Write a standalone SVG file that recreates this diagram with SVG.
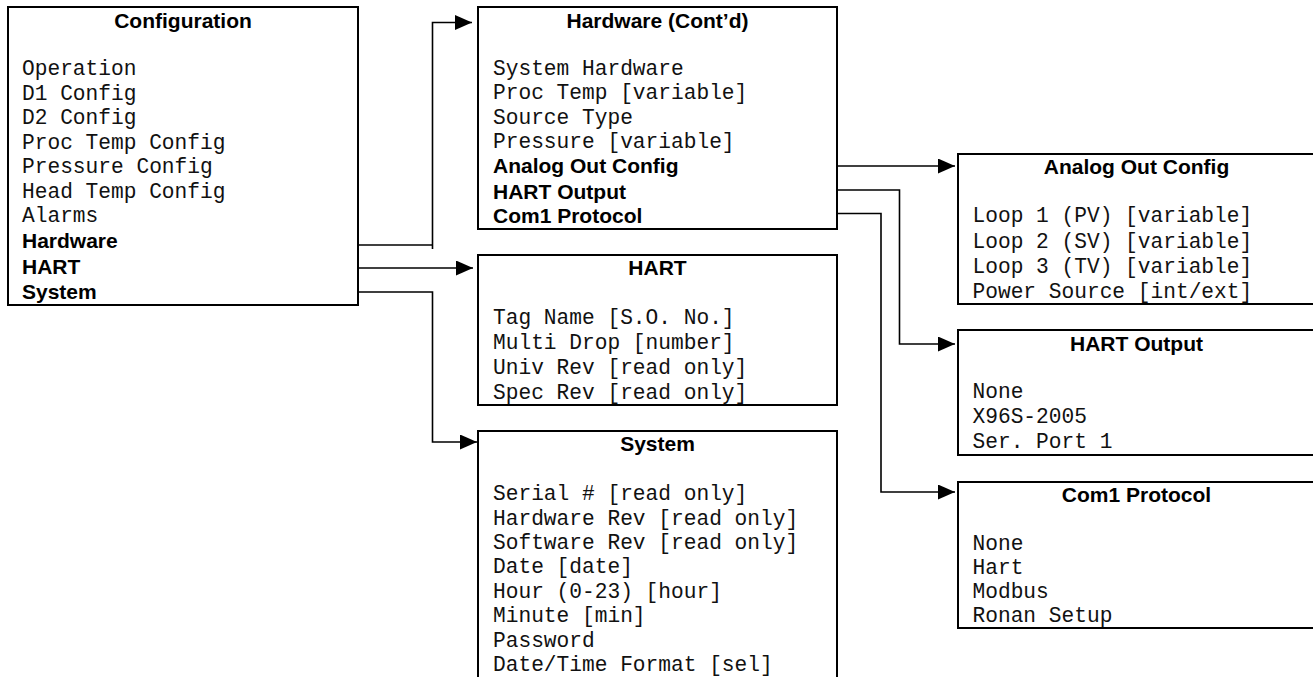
<svg xmlns="http://www.w3.org/2000/svg" width="1313" height="677" viewBox="0 0 1313 677">
<style>
.box{fill:#fff;stroke:#000;stroke-width:2}
.t{font-family:"Liberation Sans",Arial,sans-serif;font-weight:bold;font-size:21px;fill:#000;text-anchor:middle}
.b{font-family:"Liberation Sans",Arial,sans-serif;font-weight:bold;font-size:21px;fill:#000}
.m{font-family:"Liberation Mono","Courier New",monospace;font-size:21.2px;fill:#111}
.c{fill:none;stroke:#000;stroke-width:1.6}
</style>
<defs>
<marker id="ah" markerUnits="userSpaceOnUse" markerWidth="17" markerHeight="15" refX="17" refY="7.5" orient="auto">
<path d="M0,0 L17,7.5 L0,15 z" fill="#000"/>
</marker>
</defs>
<g id="connectors">
<path class="c" d="M357 245 H432.5"/>
<path class="c" d="M432.5 249 V22.5 H472" marker-end="url(#ah)"/>
<path class="c" d="M357 268 H473" marker-end="url(#ah)"/>
<path class="c" d="M357 292 H432.5 V442 H477" marker-end="url(#ah)"/>
<path class="c" d="M837 166 H955" marker-end="url(#ah)"/>
<path class="c" d="M837 190 H899.5 V344 H955" marker-end="url(#ah)"/>
<path class="c" d="M837 213.5 H881 V492 H955" marker-end="url(#ah)"/>
</g>
<g id="configuration">
<rect class="box" x="8" y="7" width="350" height="298"/>
<text class="t" x="183" y="28">Configuration</text>
<text class="m" x="22" y="75">Operation</text>
<text class="m" x="22" y="99.5">D1 Config</text>
<text class="m" x="22" y="124">D2 Config</text>
<text class="m" x="22" y="148.5">Proc Temp Config</text>
<text class="m" x="22" y="173">Pressure Config</text>
<text class="m" x="22" y="198">Head Temp Config</text>
<text class="m" x="22" y="222">Alarms</text>
<text class="b" x="22" y="248">Hardware</text>
<text class="b" x="22" y="273.5">HART</text>
<text class="b" x="22" y="299">System</text>
</g>
<g id="hardware-contd">
<rect class="box" x="478" y="7" width="359" height="222"/>
<text class="t" x="657.5" y="28">Hardware (Cont’d)</text>
<text class="m" x="493" y="75">System Hardware</text>
<text class="m" x="493" y="99">Proc Temp [variable]</text>
<text class="m" x="493" y="123.5">Source Type</text>
<text class="m" x="493" y="147.5">Pressure [variable]</text>
<text class="b" x="493" y="173.3">Analog Out Config</text>
<text class="b" x="493" y="199">HART Output</text>
<text class="b" x="493" y="222.7">Com1 Protocol</text>
</g>
<g id="hart">
<rect class="box" x="478" y="255" width="359" height="150"/>
<text class="t" x="657.5" y="274.5">HART</text>
<text class="m" x="493" y="323.5">Tag Name [S.O. No.]</text>
<text class="m" x="493" y="348.5">Multi Drop [number]</text>
<text class="m" x="493" y="373.5">Univ Rev [read only]</text>
<text class="m" x="493" y="398.5">Spec Rev [read only]</text>
</g>
<g id="system">
<rect class="box" x="478" y="431" width="359" height="260"/>
<text class="t" x="657.5" y="451">System</text>
<text class="m" x="493" y="500">Serial # [read only]</text>
<text class="m" x="493" y="524.5">Hardware Rev [read only]</text>
<text class="m" x="493" y="549">Software Rev [read only]</text>
<text class="m" x="493" y="573.3">Date [date]</text>
<text class="m" x="493" y="597.7">Hour (0-23) [hour]</text>
<text class="m" x="493" y="622">Minute [min]</text>
<text class="m" x="493" y="646.5">Password</text>
<text class="m" x="493" y="671">Date/Time Format [sel]</text>
</g>
<g id="analog-out-config">
<rect class="box" x="958" y="154" width="357" height="150"/>
<text class="t" x="1136.5" y="173.5">Analog Out Config</text>
<text class="m" x="972.5" y="222">Loop 1 (PV) [variable]</text>
<text class="m" x="972.5" y="247.5">Loop 2 (SV) [variable]</text>
<text class="m" x="972.5" y="273">Loop 3 (TV) [variable]</text>
<text class="m" x="972.5" y="298">Power Source [int/ext]</text>
</g>
<g id="hart-output">
<rect class="box" x="958" y="330" width="357" height="125"/>
<text class="t" x="1136.5" y="350.7">HART Output</text>
<text class="m" x="972.5" y="398.3">None</text>
<text class="m" x="972.5" y="423.3">X96S-2005</text>
<text class="m" x="972.5" y="448.3">Ser. Port 1</text>
</g>
<g id="com1-protocol">
<rect class="box" x="958" y="482" width="357" height="146"/>
<text class="t" x="1136.5" y="501.7">Com1 Protocol</text>
<text class="m" x="972.5" y="549.5">None</text>
<text class="m" x="972.5" y="573.5">Hart</text>
<text class="m" x="972.5" y="597.5">Modbus</text>
<text class="m" x="972.5" y="621.5">Ronan Setup</text>
</g>
</svg>
